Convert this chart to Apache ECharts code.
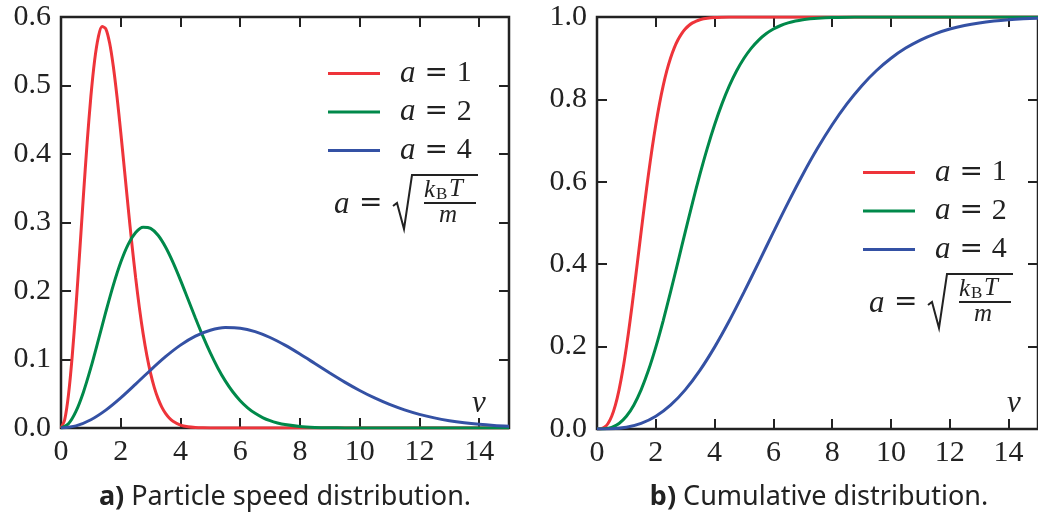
<!DOCTYPE html>
<html>
<head>
<meta charset="utf-8">
<script src="https://cdn.jsdelivr.net/npm/echarts@6/dist/echarts.min.js"></script>
<style>
html,body{margin:0;padding:0;background:#fff;}
#chart{width:1038px;height:518px;}
</style>
</head>
<body>
<div id="chart"></div>
<script>
// ---- data ----
const seriesNames = ['a = 1', 'a = 2', 'a = 4'];
const xTicks = [0, 2, 4, 6, 8, 10, 12, 14];

// speed grid for a = 1
const vA1 = [0,0.125,0.25,0.375,0.5,0.625,0.75,0.875,1,1.125,1.25,1.375,1.5,1.625,1.75,1.875,2,2.125,2.25,2.375,2.5,2.625,2.75,2.875,3,3.125,3.25,3.375,3.5,3.625,3.75,4,4.25,4.5,4.75,5,6,8,10,12,14,15];
const pdfA1 = [0,0.01237,0.04833,0.10458,0.17603,0.25637,0.33878,0.41658,0.48394,0.53631,0.57078,0.58614,0.58283,0.56266,0.52845,0.48366,0.43193,0.37679,0.32137,0.26809,0.21910,0.17536,0.13752,0.10577,0.07977,0.05898,0.04283,0.03056,0.02138,0.01469,0.00992,0.00428,0.00172,0.00065,0.00023,0.00007,0,0,0,0,0,0];
const cdfA1 = [0,0.00052,0.00408,0.01345,0.03086,0.05783,0.09504,0.14233,0.19875,0.26268,0.33208,0.40458,0.47783,0.54959,0.61791,0.68126,0.73853,0.78910,0.83272,0.86957,0.89994,0.92453,0.94403,0.95917,0.97071,0.97935,0.98567,0.99021,0.99343,0.99566,0.99718,0.99887,0.99957,0.99985,0.99995,0.99999,1,1,1,1,1,1];

// speed grid for a = 2
const vA2 = [0,0.25,0.5,0.75,1,1.25,1.5,1.75,2,2.25,2.5,2.75,3,3.25,3.5,3.75,4,4.25,4.5,4.75,5,5.25,5.5,5.75,6,6.25,6.5,6.75,7,7.25,7.5,8,8.5,9,9.5,10,11,12,13,14,15];
const pdfA2 = [0,0.00619,0.02417,0.05229,0.08802,0.12819,0.16939,0.20829,0.24197,0.26816,0.28539,0.29307,0.29141,0.28133,0.26423,0.24183,0.21597,0.18840,0.16068,0.13404,0.10955,0.08768,0.06876,0.05289,0.03989,0.02949,0.02142,0.01528,0.01069,0.00735,0.00496,0.00214,0.00086,0.00032,0.00011,0.00004,0,0,0,0,0];
const cdfA2 = [0,0.00052,0.00408,0.01345,0.03086,0.05783,0.09504,0.14233,0.19875,0.26268,0.33208,0.40458,0.47783,0.54959,0.61791,0.68126,0.73853,0.78910,0.83272,0.86957,0.89994,0.92453,0.94403,0.95917,0.97071,0.97935,0.98567,0.99021,0.99343,0.99566,0.99718,0.99887,0.99957,0.99985,0.99995,0.99999,1,1,1,1,1];

// speed grid for a = 4
const vA4 = [0,0.5,1,1.5,2,2.5,3,3.5,4,4.5,5,5.5,6,6.5,7,7.5,8,8.5,9,9.5,10,10.5,11,11.5,12,12.5,13,13.5,14,14.5,15];
const pdfA4 = [0,0.00309,0.01208,0.02615,0.04401,0.06409,0.08469,0.10415,0.12099,0.13408,0.14269,0.14654,0.14571,0.14066,0.13211,0.12091,0.10798,0.09420,0.08034,0.06702,0.05478,0.04384,0.03438,0.02644,0.01994,0.01474,0.01071,0.00764,0.00534,0.00367,0.00248];
const cdfA4 = [0,0.00052,0.00408,0.01345,0.03086,0.05783,0.09504,0.14233,0.19875,0.26268,0.33208,0.40458,0.47783,0.54959,0.61791,0.68126,0.73853,0.78910,0.83272,0.86957,0.89994,0.92453,0.94403,0.95917,0.97071,0.97935,0.98567,0.99021,0.99343,0.99566,0.99718];

const captions = ['a)', 'Particle speed distribution.', 'b)', 'Cumulative distribution.'];

// ---- styling ----
const ink = '#222';
const colors = ['#EE343A', '#00894A', '#3451A4'];
const serif = "'Liberation Serif','DejaVu Serif',serif";
const sans = "'Noto Sans','Open Sans','DejaVu Sans',sans-serif";

function pairs(xs, ys) { return xs.map((x, i) => [x, ys[i]]); }

const chart = echarts.init(document.getElementById('chart'), null, {renderer: 'canvas'});

function xAxisCfg(grid, pos, labels) {
  return {
    type: 'value', gridIndex: grid, position: pos, min: 0, max: 15, interval: 2,
    axisLine: {show: false, onZero: false},
    axisTick: {show: true, inside: true, length: 10, lineStyle: {color: ink, width: 2}},
    axisLabel: {show: labels, showMaxLabel: false, margin: 9, color: ink, fontFamily: serif, fontSize: 30},
    splitLine: {show: false}
  };
}
function yAxisCfg(grid, pos, labels, max, interval) {
  return {
    type: 'value', gridIndex: grid, position: pos, min: 0, max: max, interval: interval,
    axisLine: {show: false, onZero: false},
    axisTick: {show: true, inside: true, length: 10, lineStyle: {color: ink, width: 2}},
    axisLabel: {show: labels, margin: 10, color: ink, fontFamily: serif, fontSize: 30,
      formatter: v => v.toFixed(1)},
    splitLine: {show: false}
  };
}

const legendRich = {
  sp: {width: 15, lineHeight: 28},
  i: {fontFamily: serif, fontStyle: 'italic', fontSize: 31, color: ink, lineHeight: 28},
  e: {fontFamily: "'DejaVu Serif',serif", fontSize: 28, color: ink, lineHeight: 28},
  d: {fontFamily: serif, fontSize: 30, color: ink, lineHeight: 28}
};
function legendCfg(left, top) {
  return {
    data: seriesNames, orient: 'vertical', left: left, top: top, padding: 0,
    icon: 'rect', itemWidth: 52, itemHeight: 3, itemGap: 7.5, selectedMode: false,
    formatter: n => '{sp|}{i|a}{e| = }{d|' + n.slice(-1) + '}',
    textStyle: {rich: legendRich, color: ink, fontSize: 30, lineHeight: 28}
  };
}

function formula(dx, dy) {
  const t = (txt, x, y, size, style, fam) => ({
    type: 'text', x: x + dx, y: y + dy, z: 100,
    style: {text: txt, fill: ink, fontSize: size, fontStyle: style || 'normal', fontFamily: fam || serif,
            verticalAlign: 'middle', align: 'left'}
  });
  return [
    t('a', 334, 205, 31, 'italic'),
    t('=', 359, 204, 28, 'normal', "'DejaVu Serif',serif"),
    {type: 'polyline', z: 100, shape: {points: [[393 + dx, 206 + dy], [397 + dx, 203 + dy], [404 + dx, 229 + dy], [412 + dx, 175 + dy], [478 + dx, 175 + dy]]},
      style: {stroke: ink, lineWidth: 2, fill: null}},
    t('k', 424, 190, 25, 'italic'),
    t('B', 436, 195, 17, 'normal'),
    t('T', 449, 189, 25, 'italic'),
    {type: 'line', z: 100, shape: {x1: 424 + dx, y1: 203 + dy, x2: 476 + dx, y2: 203 + dy}, style: {stroke: ink, lineWidth: 2}},
    t('m', 439, 215, 25, 'italic')
  ];
}

function caption(x, y, bold, rest) {
  return {
    type: 'text', x: x, y: y, z: 100,
    style: {
      text: '{b|' + bold + '} {r|' + rest + '}', align: 'center', verticalAlign: 'middle',
      fill: ink, fontSize: 27, fontFamily: sans,
      rich: {
        b: {fontWeight: 'bold', fontSize: 27, fontFamily: sans, fill: ink},
        r: {fontSize: 27, fontFamily: sans, fill: ink}
      }
    }
  };
}

const mk = (name, xs, ys, color, xi, yi) => ({
  name: name, type: 'line', xAxisIndex: xi, yAxisIndex: yi, data: pairs(xs, ys),
  showSymbol: false, symbol: 'none', smooth: 0.3, clip: true,
  lineStyle: {color: color, width: 3}, itemStyle: {color: color}
});

const option = {
  animation: false,
  backgroundColor: '#fff',
  grid: [
    {left: 61, top: 17, width: 448, height: 411, show: true, borderColor: ink, borderWidth: 2.5, backgroundColor: 'transparent'},
    {left: 597, top: 17, width: 446, height: 412, show: true, borderColor: ink, borderWidth: 2.5, backgroundColor: 'transparent'}
  ],
  xAxis: [xAxisCfg(0, 'bottom', true), xAxisCfg(0, 'top', false), xAxisCfg(1, 'bottom', true), xAxisCfg(1, 'top', false)],
  yAxis: [yAxisCfg(0, 'left', true, 0.6, 0.1), yAxisCfg(0, 'right', false, 0.6, 0.1),
          yAxisCfg(1, 'left', true, 1.0, 0.2), yAxisCfg(1, 'right', false, 1.0, 0.2)],
  legend: [legendCfg(328, 58), legendCfg(863, 157)],
  series: [
    mk(seriesNames[0], vA1, pdfA1, colors[0], 0, 0),
    mk(seriesNames[1], vA2, pdfA2, colors[1], 0, 0),
    mk(seriesNames[2], vA4, pdfA4, colors[2], 0, 0),
    mk(seriesNames[0], vA1, cdfA1, colors[0], 2, 2),
    mk(seriesNames[1], vA2, cdfA2, colors[1], 2, 2),
    mk(seriesNames[2], vA4, cdfA4, colors[2], 2, 2)
  ],
  graphic: {
    elements: [
      ...formula(0, 0),
      ...formula(535, 99),
      {type: 'text', x: 472, y: 404, z: 100, style: {text: 'v', fill: ink, fontSize: 31, fontStyle: 'italic', fontFamily: serif, verticalAlign: 'middle'}},
      {type: 'text', x: 1007, y: 404, z: 100, style: {text: 'v', fill: ink, fontSize: 31, fontStyle: 'italic', fontFamily: serif, verticalAlign: 'middle'}},
      caption(285, 497, captions[0], captions[1]),
      caption(819, 497, captions[2], captions[3])
    ]
  }
};
chart.setOption(option);
</script>
</body>
</html>
